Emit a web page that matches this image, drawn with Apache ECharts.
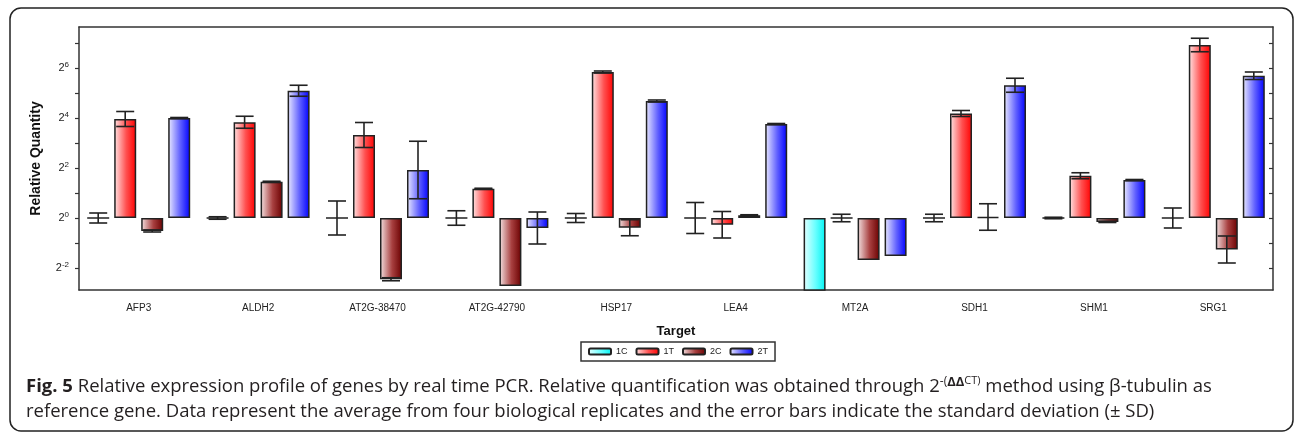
<!DOCTYPE html>
<html>
<head>
<meta charset="utf-8">
<script src="https://cdn.jsdelivr.net/npm/echarts@6/dist/echarts.min.js"></script>
<style>
  html, body { margin: 0; padding: 0; background: #fff; }
  #chart { width: 1295px; height: 434px; }
</style>
</head>
<body>
<div id="chart"></div>
<script>
// genes on the x axis
const genes = ['AFP3', 'ALDH2', 'AT2G-38470', 'AT2G-42790', 'HSP17', 'LEA4', 'MT2A', 'SDH1', 'SHM1', 'SRG1'];
const sampleNames = ['1C', '1T', '2C', '2T'];

// relative quantity as exponent of 2 (log2)
const val1C = [0, 0, 0, 0, 0, 0, -3.4, 0, 0, 0];
const val1T = [3.96, 3.83, 3.32, 1.17, 5.84, -0.27, 0, 4.18, 1.69, 6.92];
const val2C = [-0.52, 1.45, -2.45, -2.72, -0.39, 0.11, -1.68, 0.04, -0.16, -1.26];
const val2T = [4.0, 5.09, 1.92, -0.40, 4.68, 3.76, -1.52, 5.31, 1.52, 5.69];

// standard deviation (log2 units)
const err1C = [0.2, 0.05, 0.68, 0.29, 0.18, 0.62, 0, 0.15, 0.03, 0.4];
const err1T = [0.3, 0.24, 0.5, 0.02, 0.04, 0.53, 0.15, 0.12, 0.12, 0.27];
const err2C = [0.04, 0.02, 0.06, 0, 0.32, 0.02, 0, 0.53, 0.02, 0.54];
const err2T = [0.02, 0.22, 1.15, 0.64, 0.04, 0.02, 0, 0.28, 0.02, 0.15];

// y axis ticks (exponents)
const yTickValues = [-2, -1, 0, 1, 2, 3, 4, 5, 6, 7];
const yLabelValues = [-2, 0, 2, 4, 6];

const values = [val1C, val1T, val2C, val2T];
const errors = [err1C, err1T, err2C, err2T];

const barW = 22;
const barStep = 27;
const grad = (a, b, c) => new echarts.graphic.LinearGradient(0, 0, 1, 0, [
  { offset: 0, color: a },
  { offset: 0.55, color: b },
  { offset: 1, color: c }
]);
const fills = [
  grad('#e6ffff', '#66ffff', '#00f2f2'),
  grad('#ffe6e6', '#ff5050', '#ff0000'),
  grad('#f5e4e4', '#a84040', '#6a0000'),
  grad('#ececff', '#6060ff', '#0000ff')
];

const chart = echarts.init(document.getElementById('chart'));

const errData = [];
errors.forEach((arr, g) => {
  arr.forEach((e, i) => {
    if (e > 0) errData.push([i, g, values[g][i], e]);
  });
});

function renderError(params, api) {
  const cat = api.value(0), g = api.value(1), v = api.value(2), e = api.value(3);
  const hi = api.coord([cat, v + e]);
  const lo = api.coord([cat, v - e]);
  const x = hi[0] + (g - 1.5) * barStep;
  const cap = 9;
  const st = { stroke: '#222', lineWidth: 1.6 };
  return {
    type: 'group',
    children: [
      { type: 'line', shape: { x1: x, y1: hi[1], x2: x, y2: lo[1] }, style: st },
      { type: 'line', shape: { x1: x - cap, y1: hi[1], x2: x + cap, y2: hi[1] }, style: st },
      { type: 'line', shape: { x1: x - cap, y1: lo[1], x2: x + cap, y2: lo[1] }, style: st }
    ]
  };
}

const yMin = -2.88, yMax = 7.64;
const lineCol = '#333';

const option = {
  animation: false,
  grid: { left: 79, right: 22, top: 27, bottom: 144, containLabel: false },
  legend: {
    data: sampleNames,
    left: 581,
    top: 342,
    orient: 'horizontal',
    padding: [5, 7],
    itemGap: 8,
    itemWidth: 22,
    itemHeight: 6,
    borderColor: '#333',
    borderWidth: 1.5,
    textStyle: { fontSize: 9, color: '#222', fontFamily: 'Liberation Sans' }
  },
  xAxis: [{
    type: 'category',
    data: genes,
    position: 'bottom',
    name: 'Target',
    nameLocation: 'middle',
    nameGap: 35,
    nameTextStyle: { fontSize: 13, fontWeight: 'bold', color: '#111', fontFamily: 'Liberation Sans' },
    axisLine: { onZero: false, lineStyle: { color: lineCol, width: 1.5 } },
    axisTick: { alignWithLabel: true, length: 6, lineStyle: { color: lineCol, width: 1.2 } },
    axisLabel: { fontSize: 10, color: '#222', margin: 13, fontFamily: 'Liberation Sans' },
    splitLine: { show: false }
  }, {
    type: 'category',
    data: genes,
    position: 'top',
    axisLine: { onZero: false, lineStyle: { color: lineCol, width: 1.5 } },
    axisTick: { alignWithLabel: true, inside: true, length: 4, lineStyle: { color: lineCol, width: 1.2 } },
    axisLabel: { show: false },
    splitLine: { show: false }
  }],
  yAxis: [{
    type: 'value',
    min: yMin,
    max: yMax,
    position: 'left',
    name: 'Relative Quantity',
    nameLocation: 'middle',
    nameRotate: 90,
    nameGap: 36,
    nameTextStyle: { fontSize: 14, fontWeight: 'bold', color: '#111', fontFamily: 'Liberation Sans' },
    axisLine: { show: true, onZero: false, lineStyle: { color: lineCol, width: 1.5 } },
    axisTick: { show: true, customValues: yTickValues, length: 4, lineStyle: { color: lineCol, width: 1.2 } },
    axisLabel: {
      customValues: yLabelValues,
      margin: 10,
      formatter: v => '{b|2}{e|' + v + '}',
      rich: {
        b: { fontSize: 11, color: '#222', fontFamily: 'Liberation Sans' },
        e: { fontSize: 8, color: '#222', fontFamily: 'Liberation Sans', padding: [0, 0, 7, 0] }
      }
    },
    splitLine: { show: false }
  }, {
    type: 'value',
    min: yMin,
    max: yMax,
    position: 'right',
    axisLine: { show: true, onZero: false, lineStyle: { color: lineCol, width: 1.5 } },
    axisTick: { show: true, inside: true, customValues: yTickValues, length: 4, lineStyle: { color: lineCol, width: 1.2 } },
    axisLabel: { show: false },
    splitLine: { show: false }
  }],
  series: sampleNames.map((name, g) => ({
    name: name,
    type: 'bar',
    xAxisIndex: 0,
    yAxisIndex: 0,
    barWidth: barW,
    barGap: ((barStep - barW) / barW * 100) + '%',
    data: values[g],
    itemStyle: { color: fills[g], borderColor: '#222', borderWidth: 1.5 }
  })).concat([{
    name: 'err',
    type: 'custom',
    xAxisIndex: 0,
    yAxisIndex: 0,
    z: 5,
    renderItem: renderError,
    data: errData
  }]),
  graphic: [{
    type: 'rect',
    shape: { x: 10, y: 8, width: 1283, height: 423, r: 11 },
    style: { fill: 'none', stroke: '#222', lineWidth: 1.5 },
    silent: true
  }, {
    type: 'text',
    x: 26,
    y: 387,
    style: {
      text: '{fb|Fig. 5} Relative expression profile of genes by real time PCR. Relative quantification was obtained through 2{sup|-(}{supb|ΔΔ}{sup2|CT)} method using β-tubulin as',
      fontSize: 18.5,
      fontFamily: 'Open Sans',
      fill: '#231f20',
      verticalAlign: 'middle',
      rich: {
        fb: { fontSize: 18.5, fontWeight: 'bold', fontFamily: 'Open Sans', fill: '#231f20' },
        sup: { fontSize: 12, fontFamily: 'Open Sans', fill: '#231f20', padding: [0, 0, 11, 0] },
        supb: { fontSize: 13, fontWeight: 'bold', fontFamily: 'Open Sans', fill: '#231f20', padding: [0, 0, 10, 0] },
        sup2: { fontSize: 11, fontFamily: 'Open Sans', fill: '#231f20', padding: [0, 0, 13, 0] }
      }
    }
  }, {
    type: 'text',
    x: 26,
    y: 412,
    style: {
      text: 'reference gene. Data represent the average from four biological replicates and the error bars indicate the standard deviation (± SD)',
      fontSize: 18.5,
      fontFamily: 'Open Sans',
      fill: '#231f20',
      verticalAlign: 'middle'
    }
  }]
};

chart.setOption(option);
</script>
</body>
</html>
